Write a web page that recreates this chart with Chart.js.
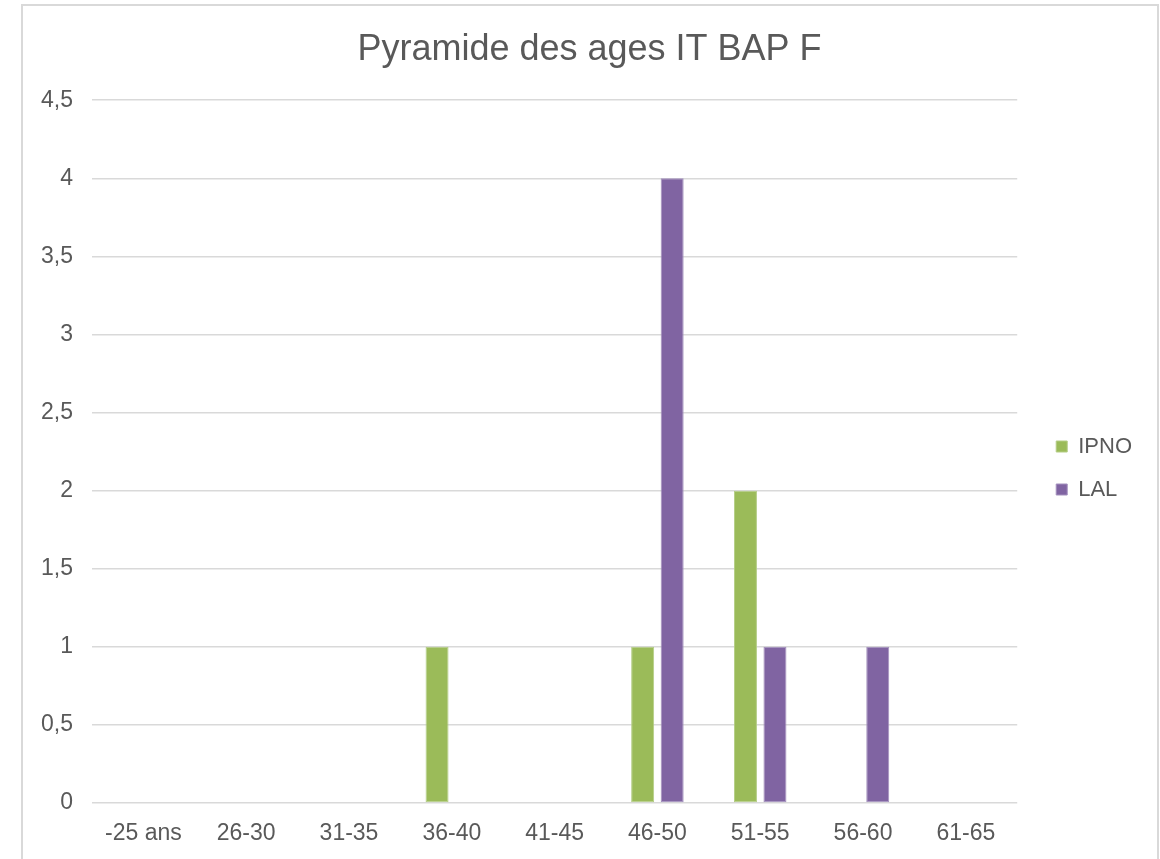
<!DOCTYPE html>
<html lang="fr">
<head>
    <meta charset="UTF-8">
    <title>Pyramide des ages IT BAP F</title>
    <script src="https://cdn.jsdelivr.net/npm/chart.js"></script>
    <style>
        html, body {
            margin: 0;
            padding: 0;
            background: #ffffff;
            overflow: hidden;
        }
        .chart-box {
            position: absolute;
            left: 21px;
            top: 4px;
            width: 1134px;
            height: 880px;
            border: 2px solid #d9d9d9;
            background: #ffffff;
        }
    </style>
</head>
<body>
    <div class="chart-box">
        <canvas id="ageChart" width="1134" height="880"></canvas>
    </div>

    <script>
        // données
        const categories = ['-25 ans', '26-30', '31-35', '36-40', '41-45', '46-50', '51-55', '56-60', '61-65'];
        const ipno = [0, 0, 0, 1, 0, 1, 2, 0, 0];
        const lal = [0, 0, 0, 0, 0, 4, 1, 1, 0];
        const yMin = 0;
        const yMax = 4.5;
        const yStep = 0.5;

        const textColor = '#595959';
        const fontFamily = '"Liberation Sans", Arial, sans-serif';

        // légende plus loin du graphique, titre centré sur tout le cadre (comme Excel)
        const excelPlacement = {
            id: 'excelPlacement',
            afterLayout(chart) {
                const lg = chart.legend;
                lg.left += 18;
                lg.right += 18;
                lg.top += 22;
                lg.bottom += 22;
                const tb = chart.titleBlock;
                tb.left += 16;
                tb.right += 16;
                tb.top += 3;
                tb.bottom += 3;
            }
        };

        new Chart(document.getElementById('ageChart'), {
            type: 'bar',
            data: {
                labels: categories,
                datasets: [
                    {
                        label: 'IPNO',
                        data: ipno,
                        backgroundColor: '#9bbb59',
                        borderColor: '#b4cd85',
                        borderWidth: 1,
                        borderSkipped: false
                    },
                    {
                        label: 'LAL',
                        data: lal,
                        backgroundColor: '#8064a2',
                        borderColor: '#a390bd',
                        borderWidth: 1,
                        borderSkipped: false
                    }
                ]
            },
            options: {
                responsive: false,
                animation: false,
                datasets: {
                    bar: {
                        categoryPercentage: 0.574,
                        barPercentage: 0.78
                    }
                },
                layout: {
                    padding: { left: 0, right: 33, top: 0, bottom: 0 }
                },
                plugins: {
                    title: {
                        display: true,
                        text: 'Pyramide des ages IT BAP F',
                        color: textColor,
                        font: { family: fontFamily, size: 36, weight: 'normal' },
                        padding: { top: 19, bottom: 32 }
                    },
                    legend: {
                        position: 'right',
                        labels: {
                            color: textColor,
                            font: { family: fontFamily, size: 22 },
                            boxWidth: 11,
                            boxHeight: 11,
                            padding: 21
                        }
                    },
                    tooltip: { enabled: false }
                },
                scales: {
                    x: {
                        grid: { display: false, drawTicks: false },
                        border: { display: false },
                        ticks: {
                            color: textColor,
                            font: { family: fontFamily, size: 23 },
                            padding: 17,
                            maxRotation: 0,
                            autoSkip: false
                        },
                        afterFit(scale) {
                            scale.height = 83;
                        }
                    },
                    y: {
                        min: yMin,
                        max: yMax,
                        grid: { color: '#d9d9d9', lineWidth: 1.5, drawTicks: false },
                        border: { display: false },
                        ticks: {
                            stepSize: yStep,
                            color: textColor,
                            font: { family: fontFamily, size: 23 },
                            padding: 19,
                            callback: v => String(v).replace('.', ',')
                        },
                        afterFit(scale) {
                            scale.width = 69;
                        }
                    }
                }
            },
            plugins: [excelPlacement]
        });
    </script>
</body>
</html>
